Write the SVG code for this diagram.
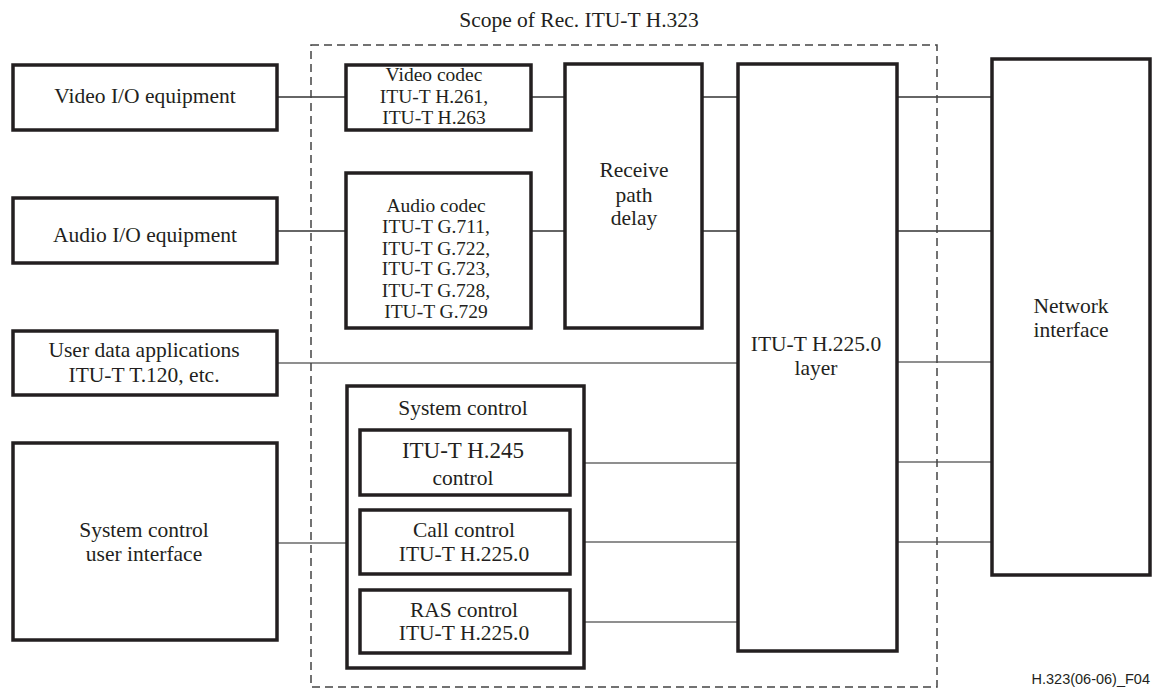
<svg xmlns="http://www.w3.org/2000/svg" width="1153" height="689" viewBox="0 0 1153 689">
<style>
.b{fill:#fff;stroke:#231f20;stroke-width:3.5}
.t{font-family:"Liberation Serif","Times New Roman",serif;font-size:21.5px;fill:#231f20;text-anchor:middle}
.s{font-size:19.5px}
.c{stroke:#333;stroke-width:1.5;fill:none}
.g{stroke:#6a6a6a;stroke-width:1.5;fill:none}
</style>
<rect width="1153" height="689" fill="#fff"/>
<g id="connectors">
<line class="c" x1="277" y1="97" x2="346" y2="97"/>
<line class="c" x1="531" y1="97" x2="565" y2="97"/>
<line class="c" x1="702" y1="97" x2="738" y2="97"/>
<line class="c" x1="897" y1="97" x2="992" y2="97"/>
<line class="c" x1="277" y1="231" x2="346" y2="231"/>
<line class="c" x1="531" y1="231" x2="565" y2="231"/>
<line class="c" x1="702" y1="231" x2="738" y2="231"/>
<line class="c" x1="897" y1="231" x2="992" y2="231"/>
<line class="g" x1="277" y1="363" x2="738" y2="363"/>
<line class="g" x1="897" y1="362" x2="992" y2="362"/>
<line class="g" x1="570" y1="463" x2="738" y2="463"/>
<line class="g" x1="897" y1="462" x2="992" y2="462"/>
<line class="g" x1="277" y1="543" x2="360" y2="543"/>
<line class="g" x1="570" y1="542" x2="738" y2="542"/>
<line class="g" x1="897" y1="542" x2="992" y2="542"/>
<line class="g" x1="570" y1="622" x2="738" y2="622"/>
</g>
<g id="scope">
<rect x="311" y="45" width="626" height="642" fill="none" stroke="#444" stroke-width="1.5" stroke-dasharray="8,5"/>
<text class="t" x="579" y="27">Scope of Rec. ITU-T H.323</text>
</g>
<g id="video-io"><rect class="b" x="13" y="65" width="264" height="65"/><text class="t" x="145" y="103">Video I/O equipment</text></g>
<g id="audio-io"><rect class="b" x="13" y="198" width="264" height="65"/><text class="t" x="145" y="242">Audio I/O equipment</text></g>
<g id="user-data"><rect class="b" x="13" y="331" width="264" height="64"/><text class="t" x="144" y="357">User data applications</text><text class="t" x="144" y="382">ITU-T T.120, etc.</text></g>
<g id="scui"><rect class="b" x="13" y="443" width="264" height="197"/><text class="t" x="144" y="537">System control</text><text class="t" x="144" y="561">user interface</text></g>
<g id="video-codec"><rect class="b" x="346" y="65" width="185" height="65"/><text class="t s" x="434" y="81">Video codec</text><text class="t s" x="434" y="103">ITU-T H.261,</text><text class="t s" x="434" y="124">ITU-T H.263</text></g>
<g id="audio-codec"><rect class="b" x="346" y="173" width="185" height="155"/>
<text class="t s" x="436" y="212">Audio codec</text>
<text class="t s" x="436" y="233">ITU-T G.711,</text>
<text class="t s" x="436" y="255">ITU-T G.722,</text>
<text class="t s" x="436" y="275">ITU-T G.723,</text>
<text class="t s" x="436" y="297">ITU-T G.728,</text>
<text class="t s" x="436" y="318">ITU-T G.729</text></g>
<g id="receive"><rect class="b" x="565" y="64" width="137" height="264"/><text class="t" x="634" y="177">Receive</text><text class="t" x="634" y="202">path</text><text class="t" x="634" y="225">delay</text></g>
<g id="h225"><rect class="b" x="738" y="64" width="159" height="587"/><text class="t" x="816" y="351">ITU-T H.225.0</text><text class="t" x="816" y="375">layer</text></g>
<g id="network"><rect class="b" x="992" y="59" width="158" height="516"/><text class="t" x="1071" y="313">Network</text><text class="t" x="1071" y="337">interface</text></g>
<g id="system-control"><rect class="b" x="347" y="386" width="237" height="282"/><text class="t" x="463" y="415">System control</text></g>
<g id="h245"><rect class="b" x="360" y="430" width="210" height="65"/><text class="t" x="463" y="458" style="font-size:23px">ITU-T H.245</text><text class="t" x="463" y="485">control</text></g>
<g id="call"><rect class="b" x="360" y="510" width="210" height="64"/><text class="t" x="464" y="537">Call control</text><text class="t" x="464" y="561">ITU-T H.225.0</text></g>
<g id="ras"><rect class="b" x="360" y="590" width="210" height="63"/><text class="t" x="464" y="617">RAS control</text><text class="t" x="464" y="640">ITU-T H.225.0</text></g>
<text x="1150" y="684" font-family="Liberation Sans,Arial,sans-serif" font-size="14.5" fill="#231f20" text-anchor="end">H.323(06-06)_F04</text>
</svg>
